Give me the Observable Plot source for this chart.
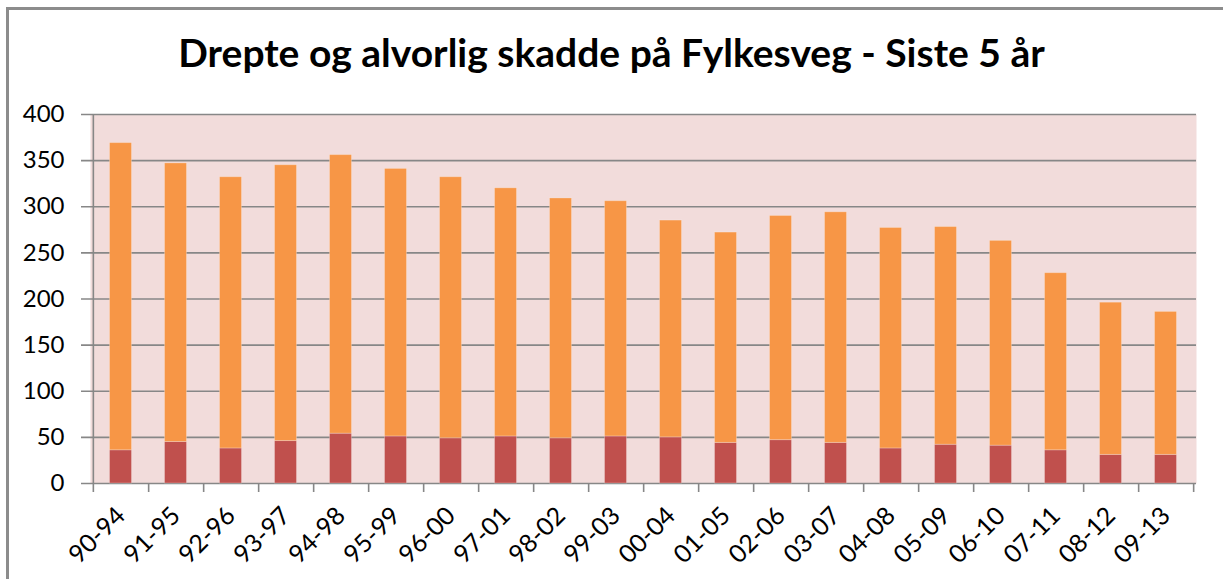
<!DOCTYPE html>
<html>
<head>
<meta charset="utf-8">
<script src="https://cdn.jsdelivr.net/npm/d3@7"></script>
<script src="https://cdn.jsdelivr.net/npm/@observablehq/plot@0.6"></script>
<style>
  html, body { margin: 0; padding: 0; background: #fff; }
  #wrap { position: relative; width: 1223px; height: 579px; overflow: hidden; font-family: Lato, "Open Sans", sans-serif; }
  #frame { position: absolute; left: 6px; top: 7px; width: 1300px; height: 700px; border-left: 3px solid #8c8c8c; border-top: 3px solid #8c8c8c; box-sizing: border-box; }
  #title { position: absolute; left: 0; top: 0; width: 1223px; height: 100px; text-align: center; font-weight: 700; font-size: 39px; line-height: 39px; padding-top: 33px; box-sizing: border-box; color: #000; z-index: 2; }
  #chart { position: absolute; left: 0; top: 0; z-index: 1; }
  #chart svg { overflow: visible; }
</style>
</head>
<body>
<div id="wrap">
  <div id="frame"></div>
  <div id="title">Drepte og alvorlig skadde på Fylkesveg - Siste 5 år</div>
  <div id="chart"></div>
</div>
<script>
const periods = ["90-94","91-95","92-96","93-97","94-98","95-99","96-00","97-01","98-02","99-03","00-04","01-05","02-06","03-07","04-08","05-09","06-10","07-11","08-12","09-13"];
const drepte = [36,45,38,46,54,51,49,51,49,51,50,44,47,44,38,42,41,36,31,31];
const alvorligSkadde = [333,302,294,299,302,290,283,269,260,255,235,228,243,250,239,236,222,192,165,155];
const yTicks = [0,50,100,150,200,250,300,350,400];

const seriesNames = ["Drepte","Alvorlig skadde"];
const colors = ["#C0504D","#F79646"];
const rows = [];
periods.forEach((p, i) => {
  rows.push({period: p, serie: seriesNames[0], value: drepte[i]});
  rows.push({period: p, serie: seriesNames[1], value: alvorligSkadde[i]});
});

const W = 1223, H = 579;
const mL = 90, mR = 27, mT = 114, mB = 96;
const step = (W - mL - mR) / periods.length;
const grey = "#878787";

const chart = Plot.plot({
  width: W,
  height: H,
  marginLeft: mL,
  marginRight: mR,
  marginTop: mT,
  marginBottom: mB,
  style: {fontFamily: "Lato, 'Open Sans', sans-serif", color: "#000", background: "transparent"},
  x: {domain: periods, padding: 0, label: null},
  y: {domain: [0, 400], label: null},
  color: {domain: seriesNames, range: colors},
  marks: [
    Plot.frame({fill: "#F2DCDB", stroke: null}),
    Plot.ruleY(yTicks, {stroke: grey, strokeWidth: 1.6, insetLeft: -9}),
    Plot.barY(rows, Plot.stackY({x: "period", y: "value", fill: "serie", order: seriesNames, insetLeft: 16.5, insetRight: 16.5, stroke: "#ffffff", strokeOpacity: 0.25, strokeWidth: 1})),
    Plot.ruleX([periods[0]], {dx: -step / 2, y1: 400, y2: 0, insetBottom: -9, stroke: grey, strokeWidth: 1.6}),
    Plot.ruleX(periods, {dx: step / 2, y1: 0, y2: 0, insetBottom: -9, stroke: grey, strokeWidth: 1.6}),
    Plot.axisY({ticks: yTicks, tickSize: 0, tickPadding: 26, fontSize: 24, label: null}),
    Plot.axisX({tickSize: 0, tickRotate: -45, tickPadding: 28, fontSize: 25, label: null})
  ]
});
document.getElementById("chart").appendChild(chart);
</script>
</body>
</html>
